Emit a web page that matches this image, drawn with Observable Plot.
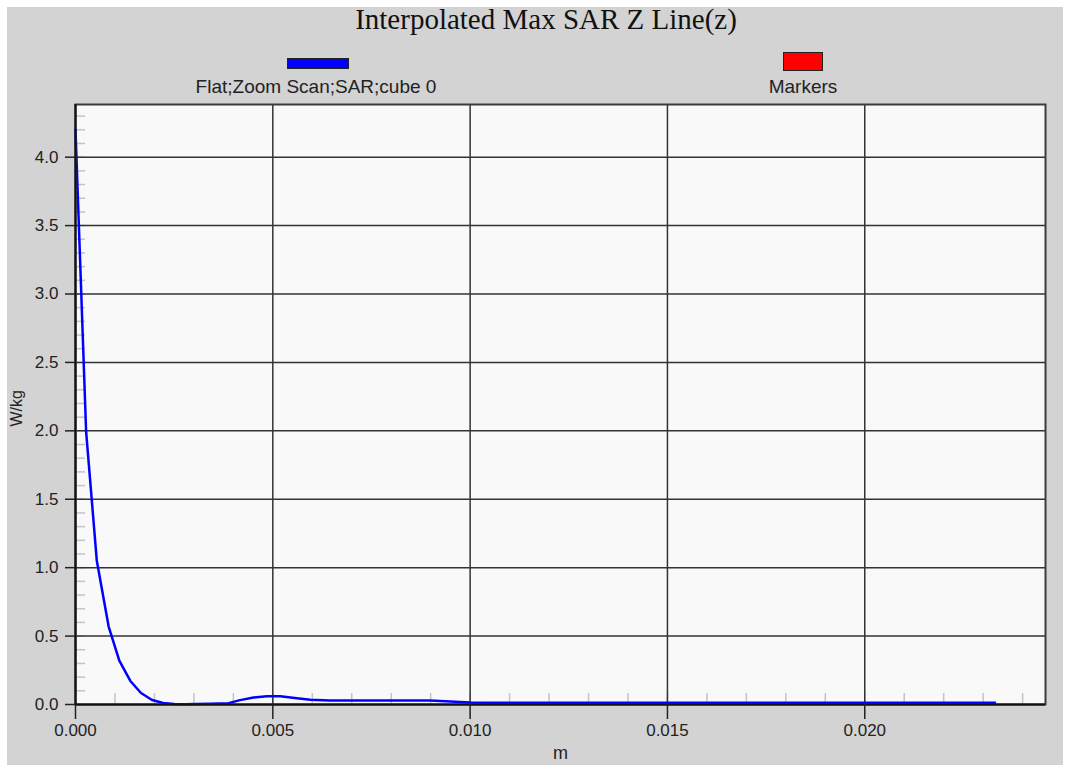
<!DOCTYPE html>
<html>
<head>
<meta charset="utf-8">
<script src="https://cdn.jsdelivr.net/npm/d3@7"></script>
<script src="https://cdn.jsdelivr.net/npm/@observablehq/plot@0.6"></script>
<style>
  html, body { margin: 0; padding: 0; background: #ffffff; }
  #bg { position: absolute; left: 7px; top: 7px; width: 1056px; height: 758px; background: #d3d3d3; }
  #title { position: absolute; left: 0; width: 1092px; top: 3px; text-align: center; line-height: 33px;
           font-family: "Liberation Serif", "Times New Roman", serif; font-size: 29px; color: #111; }
  .sw { position: absolute; border: 1px solid #222; box-sizing: border-box; }
  .lg { position: absolute; font-family: "Liberation Sans", Arial, sans-serif; font-size: 19px; color: #222;
        text-align: center; white-space: nowrap; }
  #chart { position: absolute; left: 0; top: 96px; }
</style>
</head>
<body>
<div id="bg"></div>
<div id="title"></div>
<div id="legend"></div>
<div id="chart"></div>
<script>
// ---- data ----
const titleText = "Interpolated Max SAR Z Line(z)";
const seriesNames = ["Flat;Zoom Scan;SAR;cube 0", "Markers"];
const seriesColors = ["#0000ff", "#ff0000"];
const xLabel = "m";
const yLabel = "W/kg";

const zValues = [0.00000, 0.00027, 0.00054, 0.00084, 0.00111, 0.00139, 0.00166, 0.00194, 0.00222, 0.00250,
                 0.00278, 0.00306, 0.00340, 0.00388, 0.00417, 0.00451, 0.00485, 0.00519, 0.00561, 0.00595,
                 0.00645, 0.00750, 0.00850, 0.00899, 0.00950, 0.01000, 0.01043, 0.01200, 0.01500, 0.01800,
                 0.02100, 0.02330];
const sarValues = [4.20, 1.99, 1.05, 0.57, 0.32, 0.172, 0.084, 0.033, 0.011, 0.003,
                   0.001, 0.003, 0.005, 0.010, 0.032, 0.051, 0.061, 0.061, 0.046, 0.034,
                   0.029, 0.029, 0.029, 0.029, 0.022, 0.015, 0.012, 0.012, 0.012, 0.012,
                   0.012, 0.012];

const xTicks = [0, 0.005, 0.010, 0.015, 0.020];
const yTicks = [0, 0.5, 1.0, 1.5, 2.0, 2.5, 3.0, 3.5, 4.0];
const xDomain = [0, 0.02458];
const yDomain = [0, 4.385];
const xMinor = d3.range(1, 25).map(i => i * 0.001);
const yMinor = d3.range(1, 44).map(i => i * 0.1);

const data = zValues.map((z, i) => ({z, sar: sarValues[i]}));

// ---- title & legend ----
document.getElementById("title").textContent = titleText;
const legend = document.getElementById("legend");
const legendItems = [
  {name: seriesNames[0], color: seriesColors[0], sx: 287, sy: 58, sw: 62, sh: 11, cx: 316},
  {name: seriesNames[1], color: seriesColors[1], sx: 783, sy: 52, sw: 40, sh: 19, cx: 803}
];
for (const it of legendItems) {
  const s = document.createElement("div");
  s.className = "sw";
  Object.assign(s.style, {left: it.sx + "px", top: it.sy + "px", width: it.sw + "px", height: it.sh + "px", background: it.color});
  legend.appendChild(s);
  const t = document.createElement("div");
  t.className = "lg";
  t.textContent = it.name;
  Object.assign(t.style, {left: (it.cx - 200) + "px", width: "400px", top: "76px"});
  legend.appendChild(t);
}

// ---- chart ----
const chart = Plot.plot({
  width: 1070,
  height: 669,
  marginLeft: 75,
  marginRight: 25,
  marginTop: 8,
  marginBottom: 61,
  x: {domain: xDomain},
  y: {domain: yDomain},
  style: {background: "transparent", fontFamily: "'Liberation Sans', Arial, sans-serif", fontSize: "17px", color: "#222", overflow: "visible"},
  marks: [
    Plot.frame({fill: "#f9f9f9"}),
    Plot.ruleX(xMinor, {y1: 0, y2: 0, insetTop: -11, stroke: "#c4c4c4", strokeWidth: 1.5}),
    Plot.ruleY(yMinor, {x1: 0, x2: 0, insetRight: -10, stroke: "#c4c4c4", strokeWidth: 1.5}),
    Plot.gridX(xTicks, {stroke: "#333", strokeOpacity: 1, strokeWidth: 1.5}),
    Plot.gridY(yTicks, {stroke: "#333", strokeOpacity: 1, strokeWidth: 1.5}),
    Plot.lineY(data, {x: "z", y: "sar", stroke: seriesColors[0], strokeWidth: 2.5}),
    Plot.frame({stroke: "#3c3c3c", strokeWidth: 2}),
    Plot.ruleX([0], {stroke: "#111", strokeWidth: 2}),
    Plot.ruleY([0], {stroke: "#111", strokeWidth: 2}),
    Plot.axisX(xTicks, {tickSize: 15, tickPadding: 4, tickFormat: d3.format(".3f"), label: null, fontSize: 17, color: "#222", strokeWidth: 1.5}),
    Plot.axisY(yTicks, {tickSize: 10, tickPadding: 7, tickFormat: d3.format(".1f"), label: null, fontSize: 17, color: "#222", strokeWidth: 1.5}),
    Plot.text([yLabel], {frameAnchor: "left", dx: -59, dy: 22, rotate: -90, fontSize: 16, fill: "#222"}),
    Plot.text([xLabel], {frameAnchor: "bottom", dy: 54, fontSize: 18, fill: "#222"})
  ]
});
document.getElementById("chart").appendChild(chart);
</script>
</body>
</html>
